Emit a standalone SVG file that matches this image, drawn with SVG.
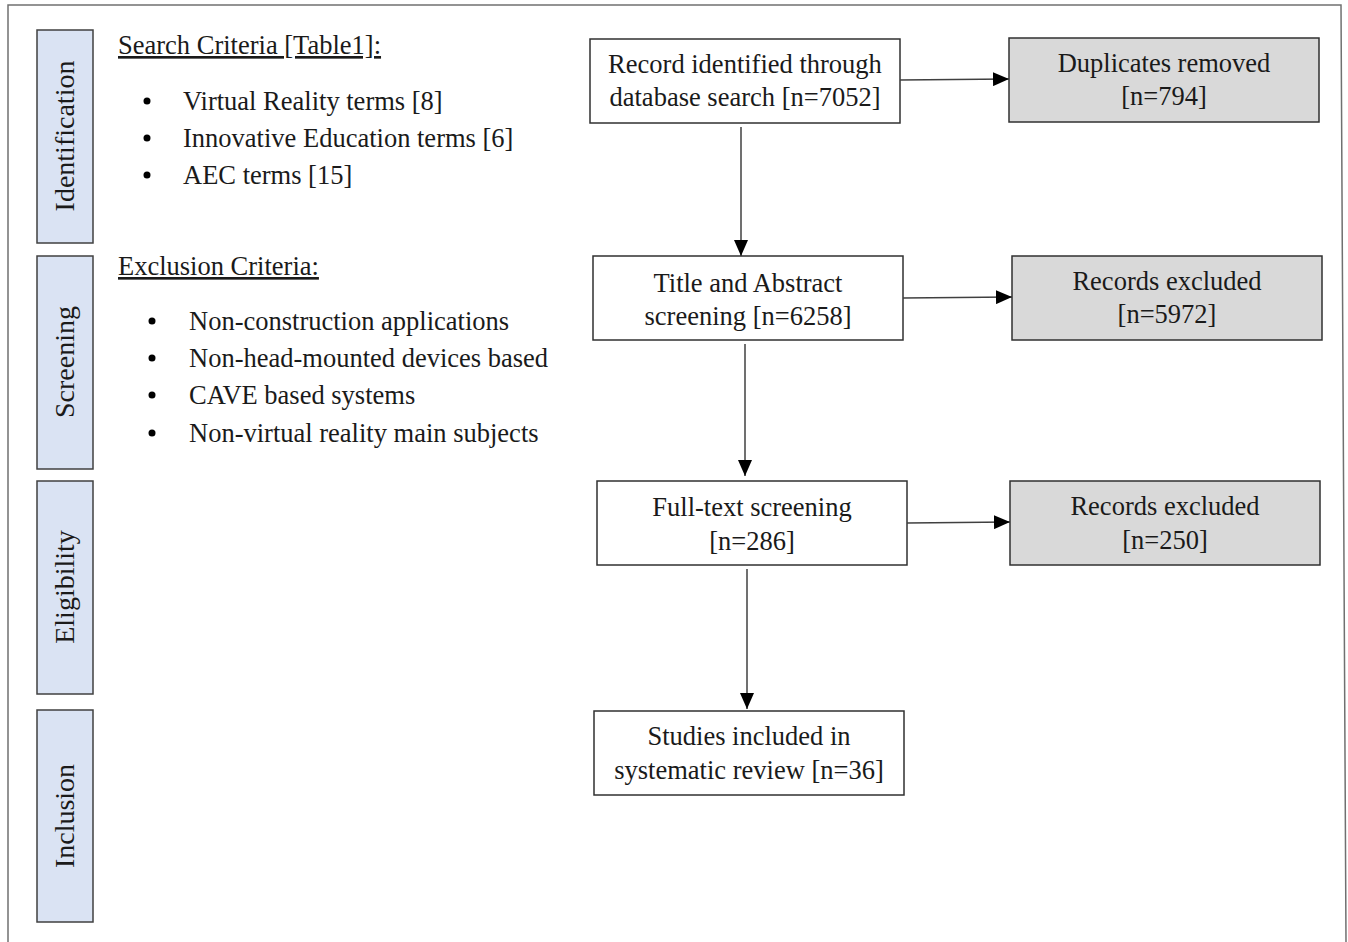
<svg xmlns="http://www.w3.org/2000/svg" width="1348" height="942" viewBox="0 0 1348 942">
<defs>
<style>
text{font-family:"Liberation Serif","Times New Roman",serif;fill:#1a1a1a}
.t{font-size:26.5px;text-anchor:middle}
.l{font-size:26.5px}
.lane{font-size:28px;text-anchor:middle}
.lanebox{fill:#dae3f3;stroke:#404040;stroke-width:1.5}
.box{fill:#ffffff;stroke:#303030;stroke-width:1.5}
.gbox{fill:#d9d9d9;stroke:#303030;stroke-width:1.5}
.c{stroke:#404040;stroke-width:1.5;fill:none;marker-end:url(#ah)}
.frame{stroke:#707070;stroke-width:1.5;fill:none}
</style>
<marker id="ah" viewBox="0 0 16 14" refX="16" refY="7" markerWidth="16" markerHeight="14" markerUnits="userSpaceOnUse" orient="auto">
<path d="M0,0 L16,7 L0,14 z" fill="#000"/>
</marker>
</defs>
<rect width="1348" height="942" fill="#ffffff"/>
<path class="frame" d="M8,942 L8,5 L1341,5 L1346,942"/>

<g id="lane-identification"><rect class="lanebox" x="37" y="30" width="56" height="213"/><text class="lane" transform="translate(65,136) rotate(-90)" x="0" y="9">Identification</text></g>
<g id="lane-screening"><rect class="lanebox" x="37" y="256" width="56" height="213"/><text class="lane" transform="translate(65,362) rotate(-90)" x="0" y="9">Screening</text></g>
<g id="lane-eligibility"><rect class="lanebox" x="37" y="481" width="56" height="213"/><text class="lane" transform="translate(65,587) rotate(-90)" x="0" y="9">Eligibility</text></g>
<g id="lane-inclusion"><rect class="lanebox" x="37" y="710" width="56" height="212"/><text class="lane" transform="translate(65,816) rotate(-90)" x="0" y="9">Inclusion</text></g>

<g id="search-criteria">
<text class="l" x="118" y="54" text-decoration="underline">Search Criteria [Table1]:</text>
<circle cx="147" cy="101" r="3.5" fill="#000"/><text class="l" x="183" y="110">Virtual Reality terms [8]</text>
<circle cx="147" cy="138" r="3.5" fill="#000"/><text class="l" x="183" y="147">Innovative Education terms [6]</text>
<circle cx="147" cy="175" r="3.5" fill="#000"/><text class="l" x="183" y="184">AEC terms [15]</text>
</g>
<g id="exclusion-criteria">
<text class="l" x="118" y="275" text-decoration="underline">Exclusion Criteria:</text>
<circle cx="152" cy="321" r="3.5" fill="#000"/><text class="l" x="189" y="330">Non-construction applications</text>
<circle cx="152" cy="358" r="3.5" fill="#000"/><text class="l" x="189" y="367">Non-head-mounted devices based</text>
<circle cx="152" cy="395" r="3.5" fill="#000"/><text class="l" x="189" y="404">CAVE based systems</text>
<circle cx="152" cy="433" r="3.5" fill="#000"/><text class="l" x="189" y="442">Non-virtual reality main subjects</text>
</g>

<g id="record-identified"><rect class="box" x="590" y="39" width="310" height="84"/><text class="t" x="745" y="73">Record identified through</text><text class="t" x="745" y="106">database search [n=7052]</text></g>
<g id="duplicates-removed"><rect class="gbox" x="1009" y="38" width="310" height="84"/><text class="t" x="1164" y="72">Duplicates removed</text><text class="t" x="1164" y="105">[n=794]</text></g>
<g id="title-abstract"><rect class="box" x="593" y="256" width="310" height="84"/><text class="t" x="748" y="292">Title and Abstract</text><text class="t" x="748" y="325">screening [n=6258]</text></g>
<g id="records-excluded-1"><rect class="gbox" x="1012" y="256" width="310" height="84"/><text class="t" x="1167" y="290">Records excluded</text><text class="t" x="1167" y="323">[n=5972]</text></g>
<g id="full-text"><rect class="box" x="597" y="481" width="310" height="84"/><text class="t" x="752" y="516">Full-text screening</text><text class="t" x="752" y="550">[n=286]</text></g>
<g id="records-excluded-2"><rect class="gbox" x="1010" y="481" width="310" height="84"/><text class="t" x="1165" y="515">Records excluded</text><text class="t" x="1165" y="549">[n=250]</text></g>
<g id="studies-included"><rect class="box" x="594" y="711" width="310" height="84"/><text class="t" x="749" y="745">Studies included in</text><text class="t" x="749" y="779">systematic review [n=36]</text></g>

<g id="connectors">
<line class="c" x1="900" y1="80" x2="1009" y2="79"/>
<line class="c" x1="741" y1="127" x2="741" y2="256"/>
<line class="c" x1="903" y1="298" x2="1012" y2="297"/>
<line class="c" x1="745" y1="344" x2="745" y2="476"/>
<line class="c" x1="907" y1="523" x2="1010" y2="522"/>
<line class="c" x1="747" y1="569" x2="747" y2="709"/>
</g>
</svg>
